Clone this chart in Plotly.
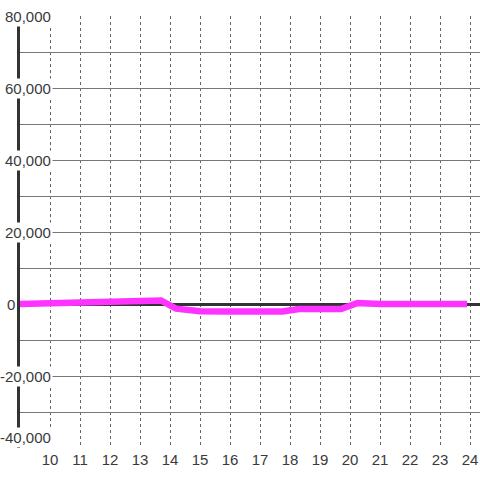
import plotly.graph_objects as go

# series values
hours = [9, 10, 11, 12, 13, 13.7, 14.2, 15, 16, 17, 17.75, 18.3, 19, 19.7, 20.25, 20.7, 21, 22, 23, 23.9]
values = [0, 200, 350, 500, 800, 1000, -1300, -2000, -2100, -2100, -2100, -1400, -1400, -1400, 300, 0, 0, 0, 0, 0]

x_ticks = list(range(10, 25))
y_label_values = [80000, 60000, 40000, 20000, 0, -20000, -40000]

TEXT = "#3a3a3a"
FONT = "Liberation Sans"

W = H = 480
L, T, B = 20, 16, 32
plot_w = W - L

fig = go.Figure()
fig.add_trace(go.Scatter(
    x=hours, y=values, mode="lines",
    line=dict(color="#ff33ff", width=6.5),
    hoverinfo="skip",
))

# y labels sit on white boxes over the axis line, like the original
for v in y_label_values:
    right_px = 17 if v == 0 else 53
    fig.add_annotation(
        x=(right_px - L) / plot_w, xref="paper",
        y=v, yref="y",
        text=f"{v:,}", showarrow=False,
        xanchor="right",
        yanchor="bottom" if v == min(y_label_values) else "middle",
        bgcolor="white", borderpad=1,
        font=dict(family=FONT, size=15, color=TEXT),
    )

fig.update_xaxes(
    range=[9, 24.333],
    tickvals=x_ticks,
    ticktext=[str(t) for t in x_ticks],
    showgrid=True, gridcolor="#666666", gridwidth=1, griddash="dot",
    zeroline=False, showline=False, ticks="",
    ticklabelstandoff=1, automargin=False,
    tickfont=dict(family=FONT, size=15, color=TEXT),
)
fig.update_yaxes(
    range=[-40000, 80000],
    dtick=10000,
    showgrid=True, gridcolor="#777777", gridwidth=1,
    zeroline=True, zerolinecolor="#333333", zerolinewidth=3,
    showline=True, linecolor="#333333", linewidth=3,
    showticklabels=False, ticks="", automargin=False,
)
fig.update_layout(
    width=W, height=H,
    margin=dict(l=L, r=0, t=T, b=B),
    paper_bgcolor="white", plot_bgcolor="white",
    showlegend=False,
)

# drop the default page margin so the figure sits at the window's corner
fig.write_html(
    "out.html",
    config={"displayModeBar": False},
    post_script="document.body.style.margin='0';document.body.style.overflow='hidden';",
)
